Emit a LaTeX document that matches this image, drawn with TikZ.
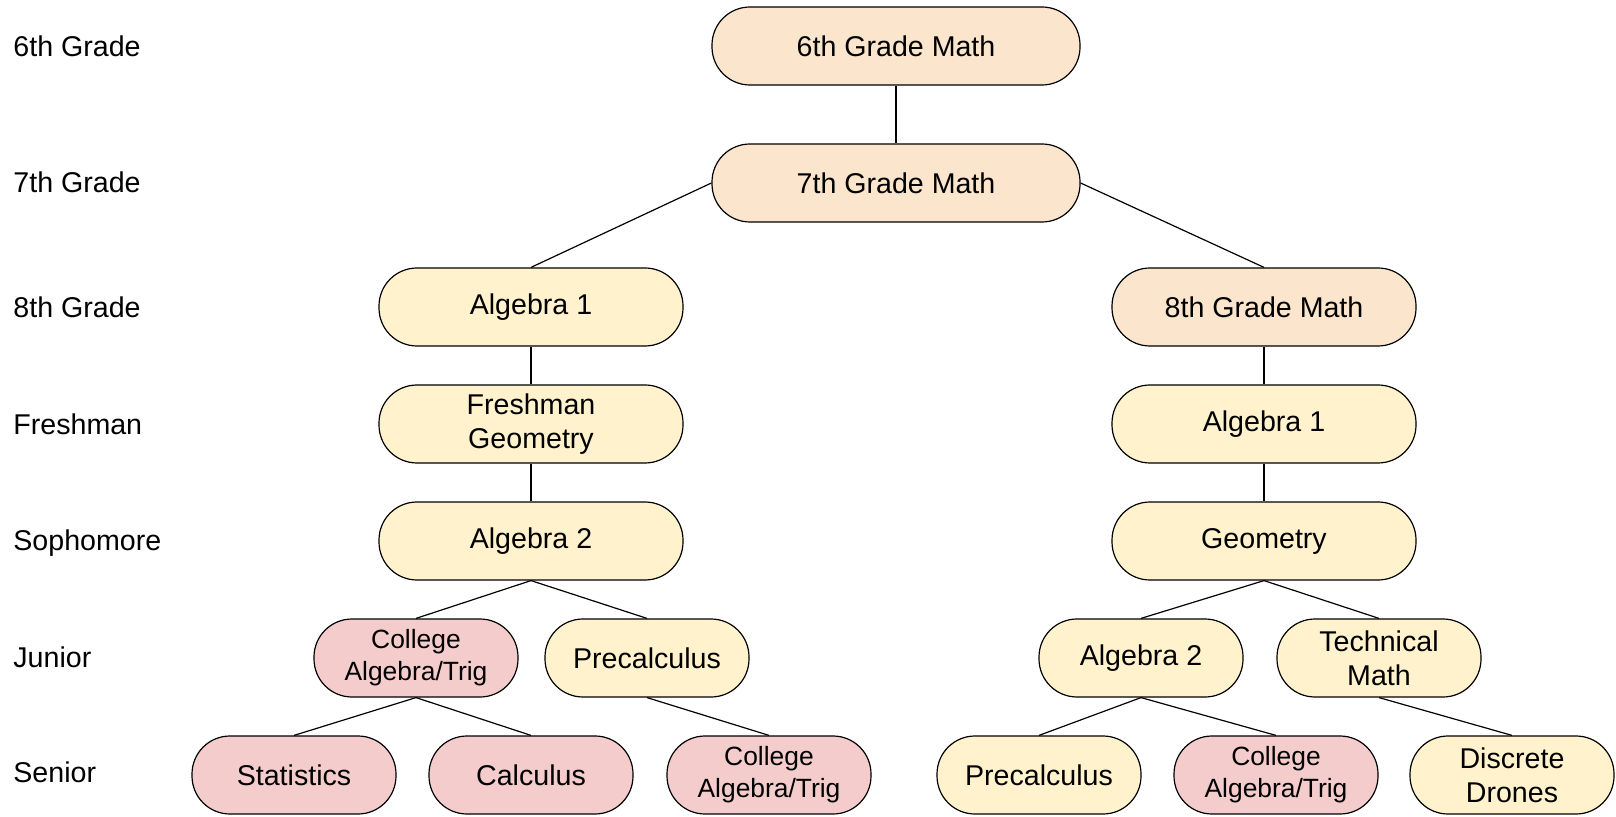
\documentclass[tikz,border=0pt]{standalone}
\usepackage{fontspec}
\setmainfont{Liberation Sans}
\usetikzlibrary{positioning}
\definecolor{peach}{HTML}{FCE5CD}
\definecolor{cream}{HTML}{FFF2CC}
\definecolor{rose}{HTML}{F4CCCC}

\begin{document}
\begin{tikzpicture}[x=0.5pt,y=-0.5pt,
 course/.style={draw, line width=0.6pt, rounded corners=19pt, align=center,
   font=\fontsize{14.3}{17}\selectfont, minimum height=39pt, inner sep=0pt},
 wide/.style={course, minimum width=184pt},
 mid/.style={course, minimum width=152pt},
 small/.style={course, minimum width=102pt},
 tight/.style={font=\fontsize{13.2}{16}\selectfont},
 grade/.style={anchor=west, font=\fontsize{14.3}{17}\selectfont, inner sep=0pt}]
 \useasboundingbox (0,0) rectangle (1616,817);

 % year labels
 \node[grade] (y6) at (13,46) {6th Grade};
 \node[grade] (y7) at (13,182) {7th Grade};
 \node[grade] (y8) at (13,307) {8th Grade};
 \node[grade] (y9) at (13,424) {Freshman};
 \node[grade] (y10) at (13,543) {Sophomore};
 \node[grade] (y11) at (13,657) {Junior};
 \node[grade] (y12) at (13,772) {Senior};

 % middle school
 \node[wide, fill=peach] (g6) at (896,46) {6th Grade Math};
 \node[wide, fill=peach] (g7) at (896,183) {7th Grade Math};

 % left track
 \node[mid, fill=cream] (algA) at (531,307) {Algebra 1};
 \node[mid, fill=cream] (geoA) at (531,424) {Freshman\\Geometry};
 \node[mid, fill=cream] (algbA) at (531,541) {Algebra 2};
 \node[small, tight, fill=rose] (catA) at (416,658) {College\\Algebra/Trig};
 \node[small, fill=cream] (preA) at (647,658) {Precalculus};
 \node[small, fill=rose] (stat) at (294,775) {Statistics};
 \node[small, fill=rose] (calc) at (531,775) {Calculus};
 \node[small, tight, fill=rose] (catB) at (769,775) {College\\Algebra/Trig};

 % right track
 \node[mid, fill=peach] (g8) at (1264,307) {8th Grade Math};
 \node[mid, fill=cream] (algB) at (1264,424) {Algebra 1};
 \node[mid, fill=cream] (geoB) at (1264,541) {Geometry};
 \node[small, fill=cream] (algbB) at (1141,658) {Algebra 2};
 \node[small, fill=cream] (tech) at (1379,658) {Technical\\Math};
 \node[small, fill=cream] (preB) at (1039,775) {Precalculus};
 \node[small, tight, fill=rose] (catC) at (1276,775) {College\\Algebra/Trig};
 \node[small, fill=cream] (drone) at (1512,775) {Discrete\\Drones};

 \draw[line width=0.6pt] (g6) -- (g7);
 \draw[line width=0.6pt] (g7.west) -- (algA.north);
 \draw[line width=0.6pt] (g7.east) -- (g8.north);
 \draw[line width=0.6pt] (algA) -- (geoA);
 \draw[line width=0.6pt] (geoA) -- (algbA);
 \draw[line width=0.6pt] (algbA.south) -- (catA.north);
 \draw[line width=0.6pt] (algbA.south) -- (preA.north);
 \draw[line width=0.6pt] (catA.south) -- (stat.north);
 \draw[line width=0.6pt] (catA.south) -- (calc.north);
 \draw[line width=0.6pt] (preA.south) -- (catB.north);
 \draw[line width=0.6pt] (g8) -- (algB);
 \draw[line width=0.6pt] (algB) -- (geoB);
 \draw[line width=0.6pt] (geoB.south) -- (algbB.north);
 \draw[line width=0.6pt] (geoB.south) -- (tech.north);
 \draw[line width=0.6pt] (algbB.south) -- (preB.north);
 \draw[line width=0.6pt] (algbB.south) -- (catC.north);
 \draw[line width=0.6pt] (tech.south) -- (drone.north);
\end{tikzpicture}
\end{document}
